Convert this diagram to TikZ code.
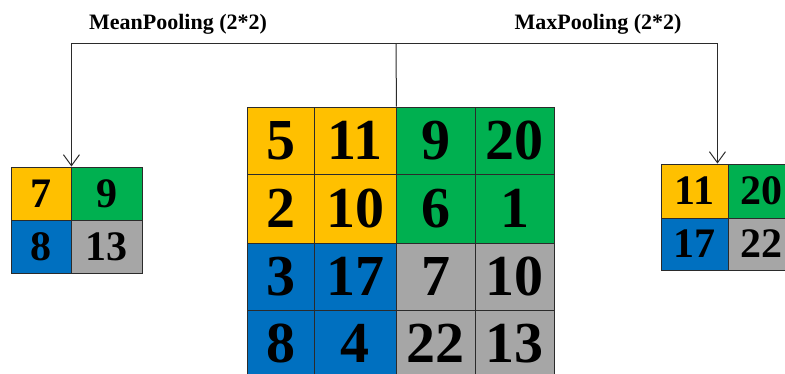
\documentclass[tikz,border=0pt]{standalone}
\usepackage{fontspec}
\setmainfont{Liberation Serif}
\usetikzlibrary{arrows.meta}
\definecolor{cyellow}{HTML}{FFC000}
\definecolor{cgreen}{HTML}{00B050}
\definecolor{cblue}{HTML}{0070C0}
\definecolor{cgrey}{HTML}{A6A6A6}
\definecolor{cline}{HTML}{2B2B2B}
\tikzset{
  cell/.style={draw=cline, fill=#1, line width=0.9pt, inner sep=0pt},
  bigcell/.style={cell=#1, minimum height=67pt, font=\bfseries\fontsize{58}{58}\selectfont},
  smallcell/.style={cell=#1, minimum width=67pt, font=\bfseries\fontsize{42}{42}\selectfont},
  arrow/.style={-{Straight Barb[length=11pt, width=16pt]}, draw=cline, line width=1pt},
  link/.style={draw=cline, line width=1pt},
  title/.style={font=\bfseries\fontsize{22}{22}\selectfont, anchor=base},
}

\begin{document}
\begin{tikzpicture}[x=1pt, y=-1pt]
  \useasboundingbox (0,0) rectangle (785,374);
  \clip (0,0) rectangle (785,374);
  % input 4x4
  \node[bigcell=cyellow, minimum width=67pt] (b11) at (280.5,140.5) {5};
  \node[bigcell=cyellow, minimum width=82pt] (b12) at (355,140.5) {11};
  \node[bigcell=cgreen, minimum width=79pt] (b13) at (435.5,140.5) {9};
  \node[bigcell=cgreen, minimum width=79pt] (b14) at (514.5,140.5) {20};
  \node[bigcell=cyellow, minimum width=67pt, minimum height=69pt] (b21) at (280.5,208.5) {2};
  \node[bigcell=cyellow, minimum width=82pt, minimum height=69pt] (b22) at (355,208.5) {10};
  \node[bigcell=cgreen, minimum width=79pt, minimum height=69pt] (b23) at (435.5,208.5) {6};
  \node[bigcell=cgreen, minimum width=79pt, minimum height=69pt] (b24) at (514.5,208.5) {1};
  \node[bigcell=cblue, minimum width=67pt] (b31) at (280.5,276.5) {3};
  \node[bigcell=cblue, minimum width=82pt] (b32) at (355,276.5) {17};
  \node[bigcell=cgrey, minimum width=79pt] (b33) at (435.5,276.5) {7};
  \node[bigcell=cgrey, minimum width=79pt] (b34) at (514.5,276.5) {10};
  \node[bigcell=cblue, minimum width=67pt] (b41) at (280.5,343.5) {8};
  \node[bigcell=cblue, minimum width=82pt] (b42) at (355,343.5) {4};
  \node[bigcell=cgrey, minimum width=79pt] (b43) at (435.5,343.5) {22};
  \node[bigcell=cgrey, minimum width=79pt] (b44) at (514.5,343.5) {13};
  % mean pooling result
  \node[smallcell=cyellow, minimum width=60pt, minimum height=53pt] (m11) at (41,193.5) {7};
  \node[smallcell=cgreen, minimum width=71pt, minimum height=53pt] (m12) at (106.5,193.5) {9};
  \node[smallcell=cblue, minimum width=60pt, minimum height=53pt] (m21) at (41,246.5) {8};
  \node[smallcell=cgrey, minimum width=71pt, minimum height=53pt] (m22) at (106.5,246.5) {13};
  % max pooling result
  \node[smallcell=cyellow, minimum height=54pt] (x11) at (694.5,191) {11};
  \node[smallcell=cgreen, minimum height=54pt] (x12) at (761.5,191) {20};
  \node[smallcell=cblue, minimum height=52pt] (x21) at (694.5,244) {17};
  \node[smallcell=cgrey, minimum height=52pt] (x22) at (761.5,244) {22};
  % connectors
  \coordinate (fork) at (396,44);
  \draw[link] (b12.north east) -- (fork);
  \draw[arrow] (fork) -| (m11.north east);
  \draw[arrow] (fork) -| ([xshift=-11pt]x11.north east);
  \node[title] (meanlbl) at (178,30) {MeanPooling (2*2)};
  \node[title] (maxlbl) at (598,30) {MaxPooling (2*2)};
\end{tikzpicture}
\end{document}
